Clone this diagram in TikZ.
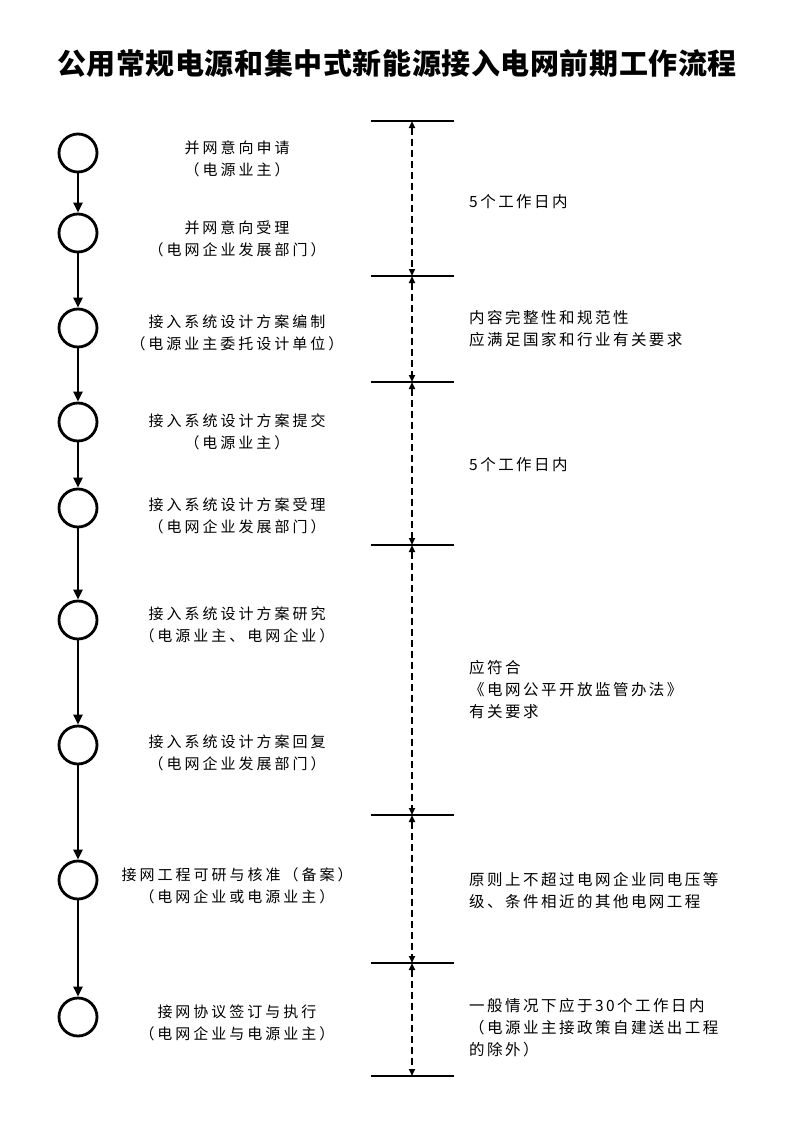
\documentclass[tikz,border=0pt]{standalone}
\usepackage{fontspec}
\usetikzlibrary{arrows.meta}
\newfontfamily\cjkl[LetterSpace=20]{Noto Sans CJK SC}
\newfontfamily\cjkr[LetterSpace=16]{Noto Sans CJK SC}
\newfontfamily\cjkt[LetterSpace=2]{Noto Sans CJK SC}
\begin{document}
\begin{tikzpicture}[x=1pt,y=-1pt,
  stepcircle/.style={circle,draw,line width=2.8pt,minimum size=38pt,inner sep=0pt},
  lefttext/.style={align=center,inner sep=0pt,font=\cjkl\fontsize{15}{22}\selectfont},
  righttext/.style={align=left,anchor=west,inner sep=0pt,font=\cjkr\fontsize{15.5}{22}\selectfont},
  flow/.style={line width=2.8pt,-{Triangle[width=9pt,length=10pt]}},
  limit/.style={line width=2pt},
  span/.style={line width=1.8pt,dash pattern=on 7pt off 4pt,{Triangle[width=6pt,length=7pt]}-{Triangle[width=6pt,length=7pt]}}
]
\useasboundingbox[fill=white] (0,0) rectangle (795,1124);

\node[inner sep=0pt,font=\cjkt\bfseries\fontsize{29}{32}\selectfont] (title) at (397,63) {公用常规电源和集中式新能源接入电网前期工作流程};

% circles
\foreach \i/\y in {1/153,2/233,3/328,4/422,5/508,6/620,7/745,8/880,9/1017}
  \node[stepcircle] (c\i) at (78,\y) {};
\foreach \i/\j in {1/2,2/3,3/4,4/5,5/6,6/7,7/8,8/9}
  \draw[flow] (c\i.south) -- (c\j.north);

% left texts
\node[lefttext] (t1) at (237,159) {并网意向申请\\（电源业主）};
\node[lefttext] (t2) at (237,238.5) {并网意向受理\\（电网企业发展部门）};
\node[lefttext] (t3) at (237,332.5) {接入系统设计方案编制\\（电源业主委托设计单位）};
\node[lefttext] (t4) at (237,431.5) {接入系统设计方案提交\\（电源业主）};
\node[lefttext] (t5) at (237,516) {接入系统设计方案受理\\（电网企业发展部门）};
\node[lefttext] (t6) at (237,625) {接入系统设计方案研究\\（电源业主、电网企业）};
\node[lefttext] (t7) at (237,752.5) {接入系统设计方案回复\\（电网企业发展部门）};
\node[lefttext] (t8) at (237,886) {接网工程可研与核准（备案）\\（电网企业或电源业主）};
\node[lefttext] (t9) at (237,1022.5) {接网协议签订与执行\\（电网企业与电源业主）};

% limit lines
\foreach \i/\y in {1/121,2/276,3/382,4/545,5/815,6/963,7/1076}{
  \coordinate (a\i) at (371,\y);
  \coordinate (b\i) at (454,\y);
  \coordinate (m\i) at (412,\y);
  \draw[limit] (a\i) -- (b\i);
}
\foreach \i/\j in {1/2,2/3,3/4,4/5,5/6,6/7}
  \draw[span] (m\i) -- (m\j);

% right texts
\node[righttext] (r1) at (469,202) {5个工作日内};
\node[righttext] (r2) at (469,329) {内容完整性和规范性\\应满足国家和行业有关要求};
\node[righttext] (r3) at (469,465) {5个工作日内};
\node[righttext] (r4) at (469,689.5) {应符合\\《电网公平开放监管办法》\\有关要求};
\node[righttext] (r5) at (469,891) {原则上不超过电网企业同电压等\\级、条件相近的其他电网工程};
\node[righttext] (r6) at (469,1027.5) {一般情况下应于30个工作日内\\（电源业主接政策自建送出工程\\的除外）};
\end{tikzpicture}
\end{document}
